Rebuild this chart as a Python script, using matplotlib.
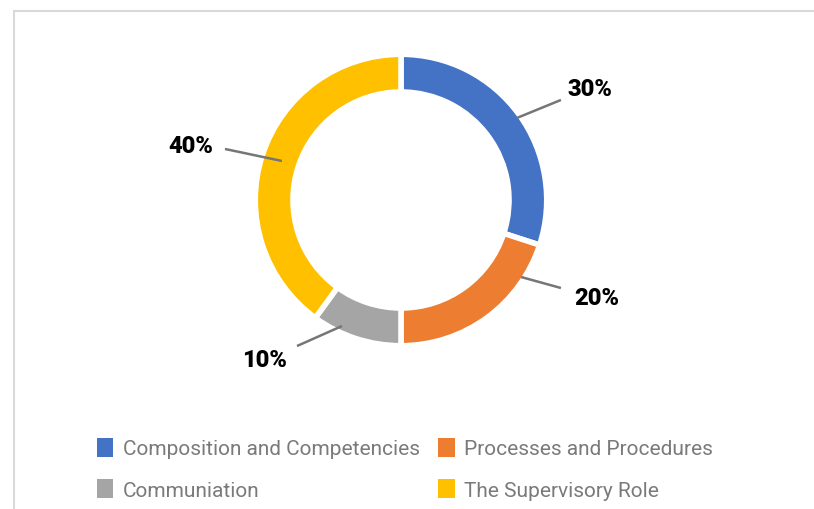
import matplotlib.pyplot as plt
from matplotlib.lines import Line2D
from matplotlib.patches import Patch

categories = [
    "Composition and Competencies",
    "Processes and Procedures",
    "Communiation",
    "The Supervisory Role",
]
shares = [30, 20, 10, 40]
colors = ["#4472C4", "#ED7D31", "#A5A5A5", "#FFC000"]

# leader line (start, end) and label anchor per slice, in pie-radius units
leaders = [
    ((0.80, 0.566), (1.103, 0.69), (1.145, 0.766), "left"),
    ((0.828, -0.531), (1.103, -0.607), (1.193, -0.669), "left"),
    ((-0.407, -0.869), (-0.717, -1.007), (-0.786, -1.097), "right"),
    ((-0.821, 0.269), (-1.214, 0.352), (-1.297, 0.379), "right"),
]

W, H = 814, 510
R = 145  # pie radius in pixels
cx, cy = 401, 510 - 201

fig = plt.figure(figsize=(W / 100, H / 100), dpi=100)
ax = fig.add_axes([(cx - 2 * R) / W, (cy - 1.4 * R) / H, 4 * R / W, 2.8 * R / H])
ax.axis("off")

wedges, _ = ax.pie(
    shares,
    colors=colors,
    startangle=90,
    counterclock=False,
    radius=1.005,
    wedgeprops=dict(width=0.26, edgecolor="white", linewidth=4),
)
ax.set_xlim(-2, 2)
ax.set_ylim(-1.4, 1.4)
ax.set_aspect("auto")

for value, (start, end, pos, ha) in zip(shares, leaders):
    ax.plot([start[0], end[0]], [start[1], end[1]], color="#767676", lw=1.8,
            solid_capstyle="butt")
    ax.text(pos[0], pos[1], f"{value}%", ha=ha, va="center",
            fontsize=17, fontweight="heavy", family="Roboto", color="#000000")

# outer frame (top and left edges visible)
frame_color = "#d9d9d9"
fig.add_artist(Line2D([14 / W, 1], [1 - 12 / H, 1 - 12 / H], color=frame_color, lw=1.5,
                      transform=fig.transFigure))
fig.add_artist(Line2D([14 / W, 14 / W], [1 - 12 / H, 0], color=frame_color, lw=1.5,
                      transform=fig.transFigure))

order = [0, 2, 1, 3]
handles = [Patch(facecolor=colors[i], edgecolor="none", label=categories[i]) for i in order]
leg = fig.legend(
    handles=handles,
    loc="upper left",
    bbox_to_anchor=(97 / W, 1 - 439 / H),
    ncol=2,
    frameon=False,
    handlelength=0.78,
    handleheight=1.0,
    handletextpad=0.45,
    columnspacing=0.9,
    labelspacing=1.0,
    borderaxespad=0,
    borderpad=0,
    prop=dict(family="Roboto", weight="normal", size=15),
)
for t in leg.get_texts():
    t.set_color("#7a7a7a")

fig.savefig("out.png", dpi=100)
